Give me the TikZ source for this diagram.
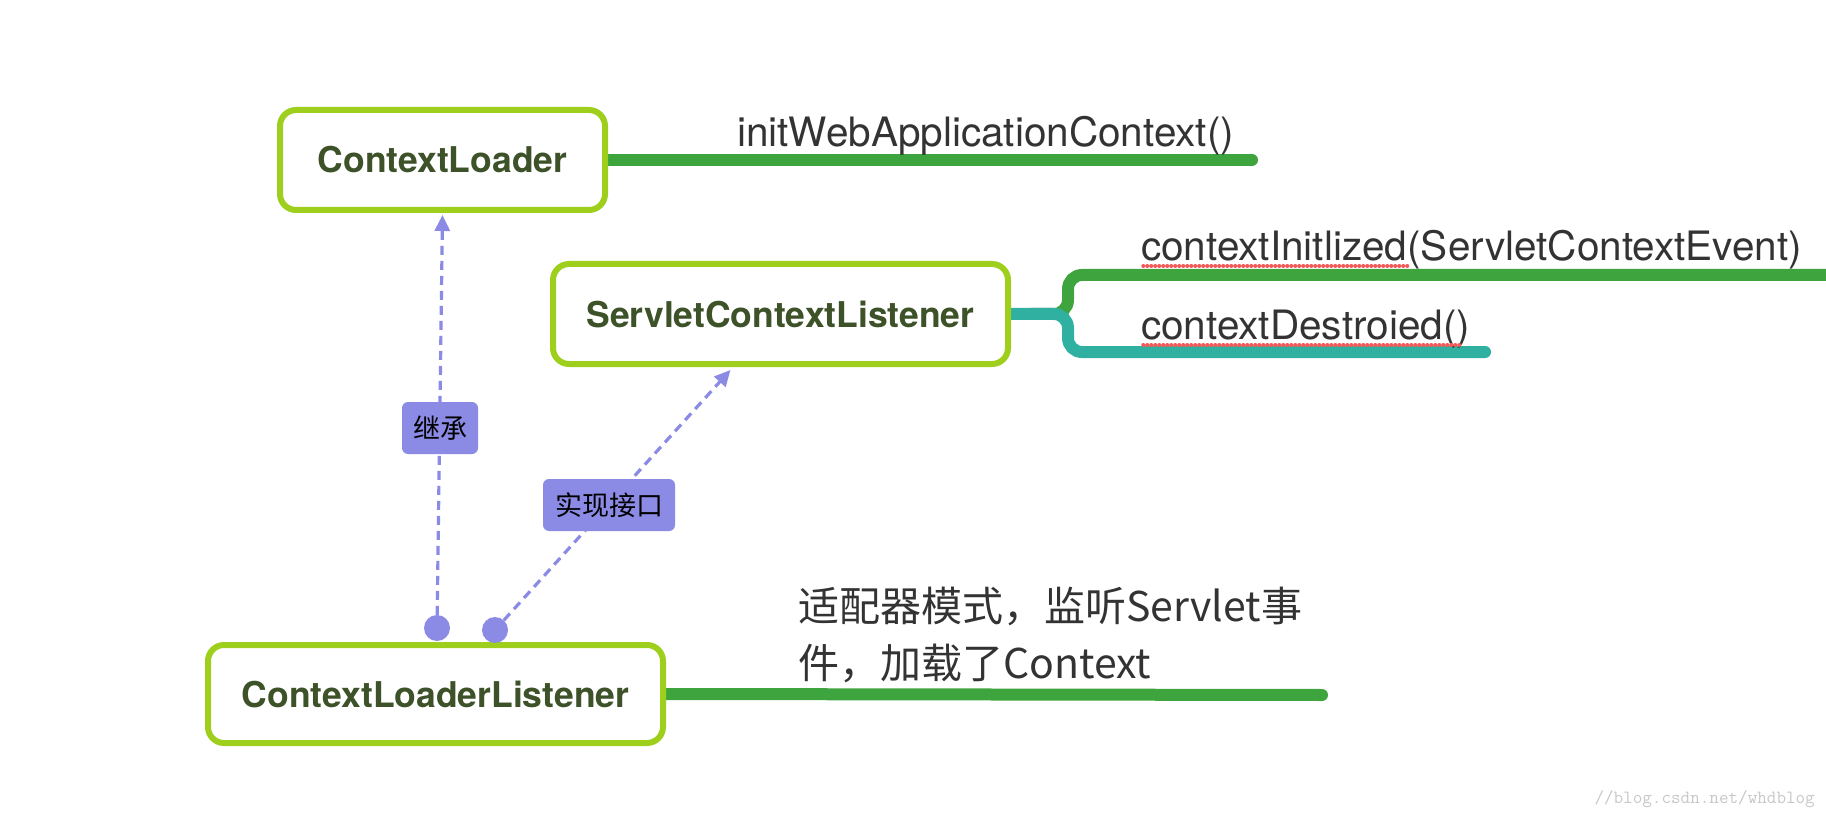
\documentclass[tikz,border=0pt]{standalone}
\usepackage{fontspec}
\setmainfont{TeX Gyre Heros}
\newfontfamily\cjk{Noto Sans CJK SC}
\usetikzlibrary{arrows.meta,calc}
\pgfdeclarelayer{background}
\pgfsetlayers{background,main}
\definecolor{boxgreen}{HTML}{9DCF1C}
\definecolor{linegreen}{HTML}{3EA53E}
\definecolor{lineteal}{HTML}{2FB0A0}
\definecolor{txtgreen}{HTML}{3D5228}
\definecolor{relcol}{HTML}{8B8BE6}
\definecolor{txtgray}{HTML}{333333}
\definecolor{spellred}{HTML}{F25A5A}
\begin{document}
\begin{tikzpicture}[x=1pt,y=-1pt,
  topic/.style={draw=boxgreen, line width=6pt, rounded corners=16pt, fill=white, text=txtgreen, font=\fontsize{35.5}{42}\selectfont\bfseries, minimum height=100pt, inner sep=0pt},
  branch/.style={line width=12pt, line cap=round, draw=linegreen},
  method/.style={anchor=base west, inner sep=0pt, text=txtgray, font=\fontsize{40.5}{48}\selectfont},
  desc/.style={anchor=base west, inner sep=0pt, text=txtgray, font=\cjk\fontsize{41}{49}\selectfont},
  rellabel/.style={fill=relcol, rounded corners=6pt, text=black, font=\cjk\fontsize{27}{31}\selectfont, inner sep=0pt, minimum height=52pt},
  reldot/.style={circle, fill=relcol, minimum size=26pt, inner sep=0pt},
  relline/.style={draw=relcol, line width=3.2pt, dash pattern=on 9pt off 6pt, -{Triangle[length=16pt,width=15pt]}},
  spell/.style={draw=spellred, line width=3.5pt, line cap=round, dash pattern=on 0.5pt off 3.5pt},
]
\useasboundingbox (0,0) rectangle (1826,818);

% topic boxes
\node[topic, minimum width=325pt] (cl) at (442.5,160) {ContextLoader};
\node[topic, minimum width=455pt] (scl) at (780.5,314) {ServletContextListener};
\node[topic, minimum width=455pt, minimum height=98pt] (cll) at (435.5,694) {ContextLoaderListener};

% method texts
\node[method] (m1) at (737,147) {initWebApplicationContext()};
\node[method] (m2) at (1141,261) {contextInitlized(ServletContextEvent)};
\node[method] (m3) at (1141,340) {contextDestroied()};
\node[desc] (d1t) at (798,621) {适配器模式，监听Servlet事};
\node[desc] (d2t) at (798,678) {件，加载了Context};

% coordinates for branch ends
\coordinate (e1) at (1252,160);
\coordinate (j) at (1068,314);
\coordinate (jg) at (1068,275);
\coordinate (eg) at (1845,275);
\coordinate (jt) at (1068,352);
\coordinate (et) at (1485,352);
\coordinate (e3) at (1322,695);

% relation dots and labels
\node[reldot] (p1) at (437,628) {};
\node[reldot] (p2) at (495,630) {};
\coordinate (t1) at ([yshift=-2pt]cl.south);
\coordinate (t2) at ([xshift=-50pt,yshift=-3pt]scl.south);
\node[rellabel, minimum width=76pt] (l1) at (440,428) {继承};
\node[rellabel, minimum width=132pt] (l2) at (609,505) {实现接口};

\begin{pgfonlayer}{background}
  \draw[branch] (cl.east) -- (e1);
  \draw[branch, rounded corners=14pt] ($(scl.east)+(20,0)$) -- (j) -- (jg) -- (eg);
  \draw[branch, draw=lineteal, rounded corners=14pt] (scl.east) -- (j) -- (jt) -- (et);
  \draw[branch] (cll.east) -- (e3);
  \draw[relline] (p1) -- (t1);
  \draw[relline] (p2) -- (t2);
\end{pgfonlayer}

% spell-check underlines
\draw[spell] ($(m2.base west)+(2,5)$) -- ++(268,0);
\draw[spell] ($(m3.base west)+(2,5)$) -- ++(318,0);

% watermark
\node[anchor=base east, inner sep=0pt, text=black!22, font=\ttfamily\fontsize{18.6}{20}\selectfont] (wm) at (1815,803) {//blog.csdn.net/whdblog};
\end{tikzpicture}
\end{document}
